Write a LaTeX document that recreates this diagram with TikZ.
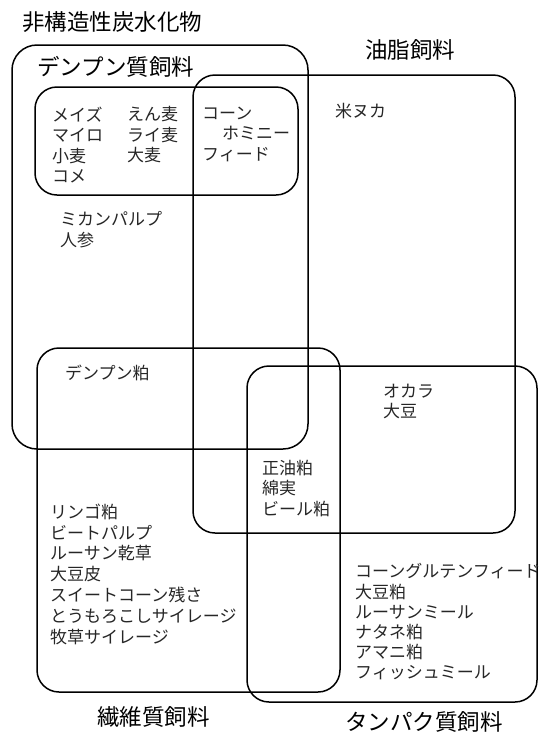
\documentclass[tikz,border=0pt]{standalone}
\usepackage{fontspec}
\setmainfont{Noto Sans CJK JP}
\tikzset{
  setbox/.style={draw, line width=1.5pt, rounded corners=22pt},
  grouptitle/.style={font=\fontsize{22.5}{26}\selectfont, inner sep=0pt, anchor=west},
  itemlist/.style={font=\fontsize{17}{20.5}\selectfont, inner sep=0pt, anchor=north west, align=left, text=black!85},
}
\begin{document}
\begin{tikzpicture}[x=1pt,y=-1pt]
\useasboundingbox (0,0) rectangle (540,732);
% sets
\draw[setbox, rounded corners=25pt] (12,45) rectangle (308,449);   % 非構造性炭水化物
\draw[setbox] (35,87) rectangle (298,195);   % デンプン質飼料 (grains)
\draw[setbox] (193,75) rectangle (515,533);  % 油脂飼料
\draw[setbox] (37,348) rectangle (340,692);  % 繊維質飼料
\draw[setbox] (247,366) rectangle (537,702); % タンパク質飼料
% titles
\node[grouptitle] (tnsc) at (22,22) {非構造性炭水化物};
\node[grouptitle] (tstarch) at (37,67) {デンプン質飼料};
\node[grouptitle] (tfat) at (365,50) {油脂飼料};
\node[grouptitle] (tfiber) at (97,717) {繊維質飼料};
\node[grouptitle] (tprot) at (345,722) {タンパク質飼料};
% items
\node[itemlist] (g1) at (52,106.5) {メイズ\\マイロ\\小麦\\コメ};
\node[itemlist] (g2) at (127,106.5) {えん麦\\ライ麦\\大麦};
\node[itemlist] (g3) at (202,106.5) {コーン\\\hspace*{20pt}ホミニー\\フィード};
\node[itemlist] (rb) at (335,103.5) {米ヌカ};
\node[itemlist] (mk) at (60,211.5) {ミカンパルプ\\人参};
\node[itemlist] (dk) at (65,364.5) {デンプン粕};
\node[itemlist] (ok) at (383,383.5) {オカラ\\大豆};
\node[itemlist] (sy) at (262,459.5) {正油粕\\綿実\\ビール粕};
\node[itemlist, font=\fontsize{17}{20.8}\selectfont] (fb) at (50,503.5) {リンゴ粕\\ビートパルプ\\ルーサン乾草\\大豆皮\\スイートコーン残さ\\とうもろこしサイレージ\\牧草サイレージ};
\node[itemlist, font=\fontsize{17}{20.2}\selectfont] (pr) at (355,563.5) {コーングルテンフィード\\大豆粕\\ルーサンミール\\ナタネ粕\\アマニ粕\\フィッシュミール};
\end{tikzpicture}
\end{document}
